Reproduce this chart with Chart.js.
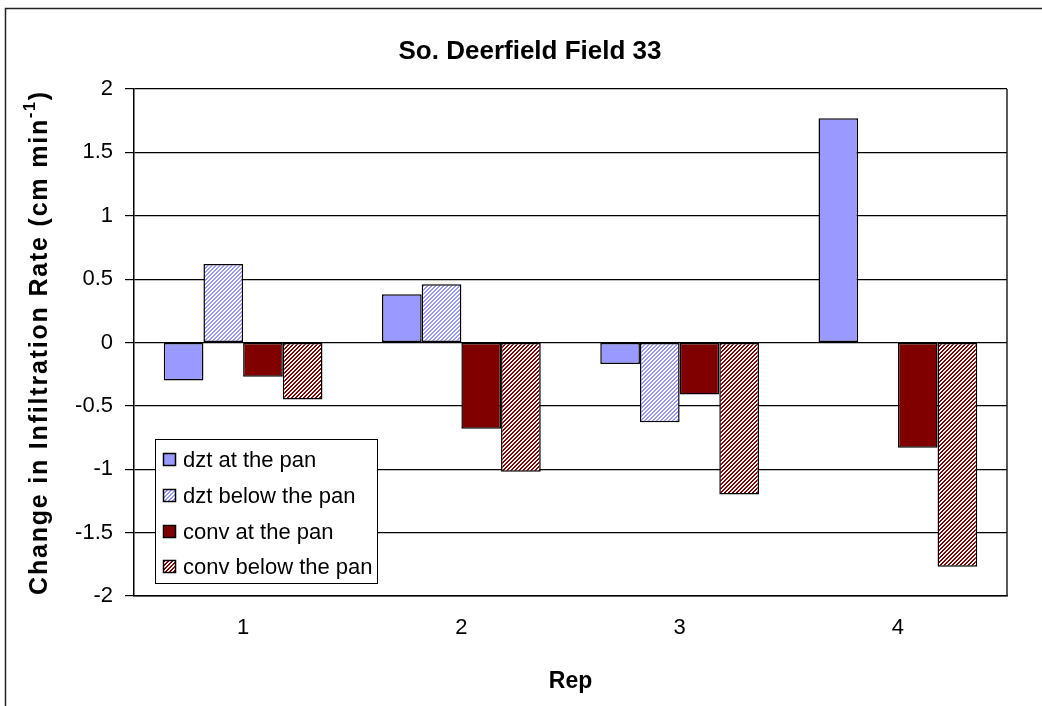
<!DOCTYPE html>
<html>
<head>
<meta charset="utf-8">
<script src="https://cdn.jsdelivr.net/npm/chart.js@4/dist/chart.umd.min.js"></script>
<style>
  html, body { margin: 0; padding: 0; background: #fff; }
  canvas { display: block; }
</style>
</head>
<body>
<canvas id="c" width="1042" height="706"></canvas>
<script>
// Change in infiltration rate per rep, four treatments
const reps = ['1', '2', '3', '4'];
const seriesNames = ['dzt at the pan', 'dzt below the pan', 'conv at the pan', 'conv below the pan'];
const dztAtPan = [-0.30, 0.38, -0.17, 1.77];
const dztBelowPan = [0.62, 0.46, -0.63, null];
const convAtPan = [-0.27, -0.68, -0.41, -0.83];
const convBelowPan = [-0.45, -1.02, -1.20, -1.77];
const yTickValues = [-2, -1.5, -1, -0.5, 0, 0.5, 1, 1.5, 2];

const FONT = '"Liberation Sans", Arial, sans-serif';
const canvas = document.getElementById('c');
const ctx = canvas.getContext('2d');

// upward diagonal hatch (///) on white
function hatch(color, period, thick) {
  const t = document.createElement('canvas');
  t.width = t.height = period;
  const g = t.getContext('2d');
  g.fillStyle = '#fff';
  g.fillRect(0, 0, period, period);
  g.fillStyle = color;
  for (let y = 0; y < period; y++)
    for (let x = 0; x < period; x++)
      if (((x + y) % period) < thick) g.fillRect(x, y, 1, 1);
  return ctx.createPattern(t, 'repeat');
}

const fills = [
  '#9999ff',
  hatch('#9999ff', 4, 2),
  '#800000',
  hatch('#800000', 4, 2)
];
const seriesData = [dztAtPan, dztBelowPan, convAtPan, convBelowPan];

const decorations = {
  id: 'decorations',
  beforeDraw(chart) {
    const c = chart.ctx;
    c.save();
    c.fillStyle = '#fff';
    c.fillRect(0, 0, chart.width, chart.height);
    // outer chart frame
    c.strokeStyle = '#222';
    c.lineWidth = 1.5;
    c.beginPath();
    c.moveTo(5.5, chart.height);
    c.lineTo(5.5, 8.5);
    c.lineTo(chart.width, 8.5);
    c.stroke();
    c.restore();
  },
  afterDraw(chart) {
    const c = chart.ctx;
    const a = chart.chartArea;
    c.save();

    // right edge of plot area
    c.strokeStyle = '#222';
    c.lineWidth = 1.5;
    c.beginPath();
    c.moveTo(a.right, a.top);
    c.lineTo(a.right, a.bottom);
    c.stroke();

    // chart title
    c.fillStyle = '#000';
    c.textAlign = 'center';
    c.textBaseline = 'middle';
    c.font = 'bold 26px ' + FONT;
    c.fillText('So. Deerfield Field 33', 530, 52);

    // x axis title
    c.font = 'bold 23px ' + FONT;
    c.fillText('Rep', (a.left + a.right) / 2, 682);

    // y axis title with superscript
    c.save();
    c.translate(40, (a.top + a.bottom) / 2);
    c.rotate(-Math.PI / 2);
    c.textAlign = 'left';
    c.textBaseline = 'middle';
    const main = 'Change in Infiltration Rate (cm min';
    const sup = '-1';
    const tail = ')';
    const bigF = 'bold 25px ' + FONT, supF = 'bold 16px ' + FONT;
    if ('letterSpacing' in c) c.letterSpacing = '1.8px';
    c.font = bigF; const w1 = c.measureText(main).width; const w3 = c.measureText(tail).width;
    c.font = supF; const w2 = c.measureText(sup).width;
    let x = -(w1 + w2 + w3) / 2;
    c.font = bigF; c.fillText(main, x, 0); x += w1;
    c.font = supF; c.fillText(sup, x, -9); x += w2;
    c.font = bigF; c.fillText(tail, x, 0);
    c.restore();

    // legend box
    const lx = 155.5, ly = 439.5, lw = 222, lh = 144;
    c.fillStyle = '#fff';
    c.fillRect(lx, ly, lw, lh);
    c.strokeStyle = '#000';
    c.lineWidth = 1;
    c.strokeRect(lx, ly, lw, lh);
    const rows = [460, 496, 532, 567];
    c.font = '22px ' + FONT;
    c.textAlign = 'left';
    c.textBaseline = 'middle';
    seriesNames.forEach((name, i) => {
      c.fillStyle = fills[i];
      c.fillRect(164, rows[i] - 6, 12, 12);
      c.strokeStyle = '#000';
      c.lineWidth = 1.5;
      c.strokeRect(163.5, rows[i] - 6.5, 12, 12);
      c.fillStyle = '#000';
      c.fillText(name, 183, rows[i] + 1);
    });
    c.restore();
  }
};

new Chart(ctx, {
  type: 'bar',
  data: {
    labels: reps,
    datasets: seriesNames.map((name, i) => ({
      label: name,
      data: seriesData[i],
      backgroundColor: fills[i],
      borderColor: '#000',
      borderWidth: 1.5,
      borderSkipped: false,
      categoryPercentage: 4 / 5.5,
      barPercentage: 1
    }))
  },
  options: {
    responsive: false,
    animation: false,
    devicePixelRatio: 1,
    layout: { padding: { left: 0, top: 89, right: 35, bottom: 0 } },
    plugins: {
      legend: { display: false },
      title: { display: false },
      tooltip: { enabled: false }
    },
    scales: {
      x: {
        afterFit(s) { s.height = 110; },
        grid: { display: false, drawTicks: false },
        border: { display: true, color: '#000', width: 1.5 },
        ticks: { color: '#000', font: { family: FONT, size: 22 }, padding: 19 }
      },
      y: {
        min: -2,
        max: 2,
        afterFit(s) { s.width = 134; },
        afterBuildTicks(s) { s.ticks = yTickValues.map(v => ({ value: v })); },
        grid: { color: '#000', lineWidth: 1.2, drawTicks: true, tickLength: 9, tickColor: '#000' },
        border: { display: true, color: '#000', width: 1.5 },
        ticks: {
          color: '#000',
          font: { family: FONT, size: 22 },
          padding: 12,
          callback: v => String(v)
        }
      }
    }
  },
  plugins: [decorations]
});
</script>
</body>
</html>
